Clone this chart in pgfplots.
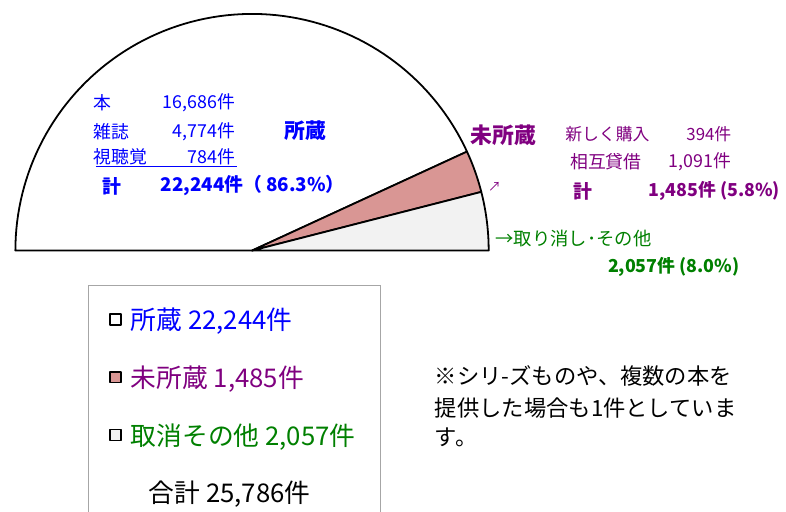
\documentclass[border=0pt]{standalone}
\usepackage{fontspec}
\setmainfont{Noto Sans CJK JP}
\usepackage{pgfplots}
\usepackage{pgfplotstable}
\pgfplotsset{compat=1.18}
\definecolor{cBlue}{RGB}{0,0,255}
\definecolor{cPurple}{RGB}{128,0,128}
\definecolor{cGreen}{RGB}{0,128,0}
\definecolor{cPink}{RGB}{217,150,148}
\definecolor{cGrey}{RGB}{242,242,242}
\pgfplotstableread{
name count
shozo 22244
mishozo 1485
torikeshi 2057
}\datatbl
\newcommand\fs[1]{\fontsize{#1}{#1}\selectfont}
\tikzset{lbl/.style={inner sep=0pt, outer sep=0pt}}
\begin{document}
\pgfplotstablegetelem{0}{count}\of\datatbl \let\nA\pgfplotsretval
\pgfplotstablegetelem{1}{count}\of\datatbl \let\nB\pgfplotsretval
\pgfplotstablegetelem{2}{count}\of\datatbl \let\nC\pgfplotsretval
\edef\angC{\fpeval{180*\nC/(\nA+\nB+\nC)}}
\edef\angB{\fpeval{180*(\nC+\nB)/(\nA+\nB+\nC)}}
\begin{tikzpicture}
\begin{axis}[
  width=786bp, height=514bp, scale only axis,
  xmin=-249, xmax=537, ymin=-262, ymax=252,
  hide axis, clip=false,
  legend style={at={(axis cs:-165,-35)}, anchor=north west, draw=gray!70, line width=0.8bp,
    fill=white, font=\fs{26}, row sep=31bp, inner xsep=21bp, inner ysep=20bp,
    /tikz/every odd column/.append style={column sep=7bp}},
  legend cell align=left,
]
\addplot[draw=black, line width=1.8bp, fill=white, line join=round, data cs=polar,
  domain=\angB:180, samples=90,
  legend image code/.code={\draw[line width=1.8bp, fill=white] (0bp,-5.5bp) rectangle (11bp,5.5bp);}]
  (x,238) -- (axis cs:0,0) -- cycle;
\addlegendentry{\makebox[228bp][l]{\textcolor{cBlue}{所蔵 22,244件}}}
\addplot[draw=black, line width=1.8bp, fill=cPink, line join=round, data cs=polar,
  domain=\angC:\angB, samples=20,
  legend image code/.code={\draw[line width=1.8bp, fill=cPink] (0bp,-5.5bp) rectangle (11bp,5.5bp);}]
  (x,238) -- (axis cs:0,0) -- cycle;
\addlegendentry{\textcolor{cPurple}{未所蔵 1,485件}}
\addplot[draw=black, line width=1.8bp, fill=cGrey, line join=round, data cs=polar,
  domain=0:\angC, samples=20,
  legend image code/.code={\draw[line width=1.8bp, fill=cGrey] (0bp,-5.5bp) rectangle (11bp,5.5bp);}]
  (x,238) -- (axis cs:0,0) -- cycle;
\addlegendentry{\textcolor{cGreen}{取消その他 2,057件}}
\addlegendimage{empty legend}
\addlegendentry{\hspace{18bp}合計 25,786件}

% 所蔵 labels
\node[lbl, anchor=west, text=cBlue, font=\fs{18}] at (axis cs:-159,149) {本};
\node[lbl, anchor=east, text=cBlue, font=\fs{18}] at (axis cs:-17,149) {16,686件};
\node[lbl, anchor=west, text=cBlue, font=\fs{18}] at (axis cs:-159,120) {雑誌};
\node[lbl, anchor=east, text=cBlue, font=\fs{18}] at (axis cs:-17,120) {4,774件};
\node[lbl, anchor=west, text=cBlue, font=\fs{18}] at (axis cs:-159,94) {視聴覚};
\node[lbl, anchor=east, text=cBlue, font=\fs{18}] at (axis cs:-17,94) {784件};
\draw[cBlue, line width=0.8bp] (axis cs:-157,85) -- (axis cs:-15,85);
\node[lbl, anchor=west, text=cBlue, font=\fs{19}\bfseries] at (axis cs:-150,65) {計};
\node[lbl, anchor=west, text=cBlue, font=\fs{19}\bfseries] at (axis cs:-92,65) {22,244件（ 86.3\%）};
\node[lbl, anchor=west, text=cBlue, font=\fs{21}\bfseries] at (axis cs:33,121) {所蔵};
% 未所蔵 labels
\node[lbl, anchor=west, text=cPurple, font=\fs{22}\bfseries] at (axis cs:220,116) {未所蔵};
\node[lbl, anchor=west, text=cPurple, font=\fs{17}] at (axis cs:315,117) {新しく購入};
\node[lbl, anchor=east, text=cPurple, font=\fs{17}] at (axis cs:482,117) {394件};
\node[lbl, anchor=west, text=cPurple, font=\fs{18}] at (axis cs:320,89) {相互貸借};
\node[lbl, anchor=east, text=cPurple, font=\fs{18}] at (axis cs:482,89) {1,091件};
\node[lbl, anchor=center, text=cPurple, font=\fs{13}] at (axis cs:244,64) {↗};
\node[lbl, anchor=west, text=cPurple, font=\fs{19}\bfseries] at (axis cs:323,60) {計};
\node[lbl, anchor=east, text=cPurple, font=\fs{18}\bfseries] at (axis cs:531,60) {1,485件 (5.8\%)};
% 取消
\node[lbl, anchor=west, text=cGreen, font=\fs{18.5}] at (axis cs:245,12) {→取り消し･その他};
\node[lbl, anchor=west, text=cGreen, font=\fs{18}\bfseries] at (axis cs:358,-16) {2,057件 (8.0\%)};
% note
\node[lbl, anchor=west, font=\fs{22.5}] at (axis cs:184,-126) {※シリ-ズものや、複数の本を};
\node[lbl, anchor=west, font=\fs{22.5}] at (axis cs:184,-158) {提供した場合も1件としていま};
\node[lbl, anchor=west, font=\fs{22.5}] at (axis cs:184,-188) {す。};
\end{axis}
\pgfresetboundingbox
\path (current axis.south west) rectangle (current axis.north east);
\end{tikzpicture}
\end{document}
